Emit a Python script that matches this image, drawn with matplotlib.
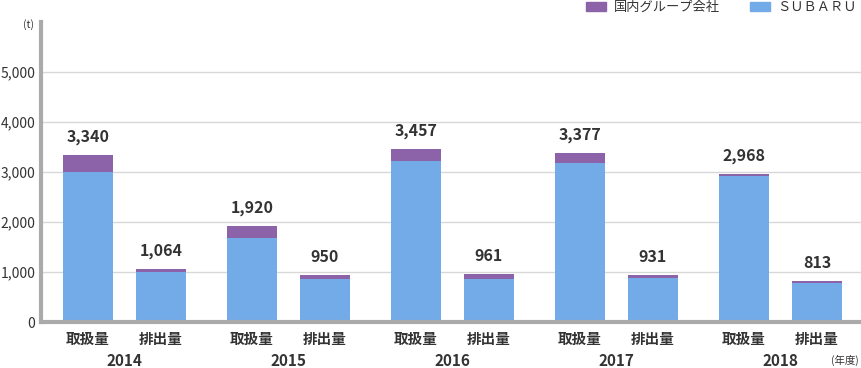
import numpy as np
import matplotlib.pyplot as plt
from matplotlib.patches import Patch

plt.rcParams['font.family'] = ['Noto Sans CJK JP', 'DejaVu Sans']

years = ['2014', '2015', '2016', '2017', '2018']
kinds = ['取扱量', '排出量']
# totals (labels) and SUBARU portion, per year: [取扱量, 排出量]
totals = [[3340, 1064], [1920, 950], [3457, 961], [3377, 931], [2968, 813]]
subaru = [[3000, 1000], [1690, 866], [3220, 870], [3180, 888], [2930, 790]]

blue = '#73aae8'
purple = '#8c62a8'
txt = '#333333'

fig = plt.figure(figsize=(8.62, 3.68), dpi=100)
ax = fig.add_axes([41 / 862, 46 / 368, 821 / 862, 300 / 368])

totals = np.array(totals)
subaru = np.array(subaru)
group = np.arange(len(years)) * 164
pos = np.stack([group + 88, group + 161], axis=1)

for k in range(2):
    x = pos[:, k]
    ax.bar(x, subaru[:, k], width=50, color=blue, zorder=2)
    ax.bar(x, totals[:, k] - subaru[:, k], bottom=subaru[:, k], width=50,
           color=purple, zorder=2)
    for xi, t in zip(x, totals[:, k]):
        ax.text(xi, t + 200, f'{t:,}', ha='center', va='bottom', fontsize=11.5,
                fontweight='bold', color=txt)
        ax.text(xi, -340, kinds[k], ha='center', va='center', fontsize=10.5,
                fontweight='bold', color=txt)

for g, y in zip(group, years):
    ax.text(g + 124.5, -775, y, ha='center', va='center', fontsize=11,
            fontweight='bold', color=txt)
ax.text(845, -775, '(年度)', ha='center', va='center', fontsize=7.5, color=txt)

ax.set_xlim(41, 862)
ax.set_ylim(0, 6000)
ax.set_yticks([0, 1000, 2000, 3000, 4000, 5000])
ax.set_yticklabels(['0', '1,000', '2,000', '3,000', '4,000', '5,000'])
ax.tick_params(axis='y', length=0, pad=4, labelsize=10, labelcolor=txt)
ax.set_xticks([])
ax.yaxis.grid(True, color='#d8d8d8', linewidth=1, zorder=0)
ax.set_axisbelow(True)
for s in ['top', 'right']:
    ax.spines[s].set_visible(False)
for s in ['left', 'bottom']:
    ax.spines[s].set_color('#aaaaaa')
    ax.spines[s].set_linewidth(3)
fig.text(29 / 862, 1 - 25 / 368, '(t)', ha='center', va='center',
         fontsize=7.5, color=txt)

handles = [Patch(color=purple, label='国内グループ会社'),
           Patch(color=blue, label='ＳＵＢＡＲＵ')]
fig.legend(handles=handles, loc='upper right', bbox_to_anchor=(1.008, 1.03),
           ncol=2, frameon=False, fontsize=9.5, handlelength=1.5,
           handleheight=0.7, handletextpad=0.6, columnspacing=2.3,
           labelcolor=txt)

fig.savefig('out.png', dpi=100)
